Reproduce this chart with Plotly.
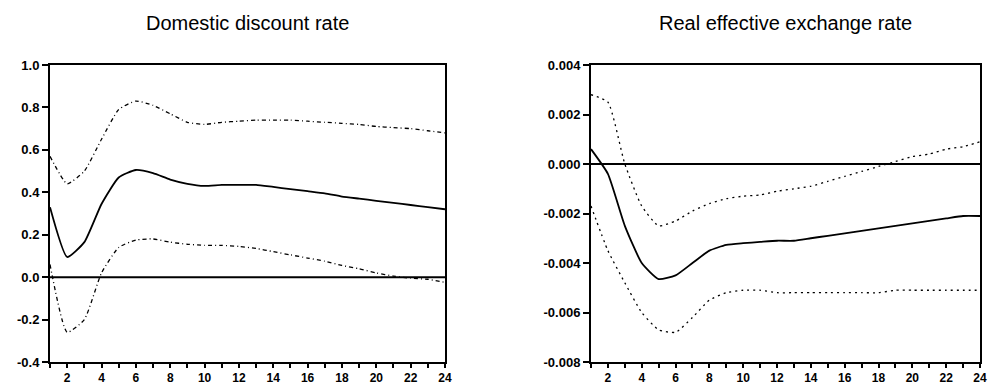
import plotly.graph_objects as go

periods = list(range(1, 25))

# Domestic discount rate
dr_resp = [0.33, 0.095, 0.165, 0.345, 0.47, 0.505, 0.49, 0.46, 0.44, 0.43, 0.435, 0.435,
           0.435, 0.425, 0.415, 0.405, 0.395, 0.38, 0.37, 0.36, 0.35, 0.34, 0.33, 0.32]
dr_upper = [0.57, 0.44, 0.50, 0.65, 0.79, 0.83, 0.81, 0.77, 0.73, 0.72, 0.73, 0.735,
            0.74, 0.74, 0.74, 0.735, 0.73, 0.725, 0.72, 0.71, 0.705, 0.70, 0.69, 0.68]
dr_lower = [0.06, -0.26, -0.20, 0.02, 0.14, 0.175, 0.18, 0.165, 0.155, 0.15, 0.15, 0.145,
            0.135, 0.12, 0.105, 0.09, 0.075, 0.055, 0.04, 0.02, 0.005, -0.005, -0.01, -0.025]

# Real effective exchange rate
er_resp = [0.0006, -0.0004, -0.0025, -0.0040, -0.00465, -0.0045, -0.0040, -0.0035, -0.00327,
           -0.0032, -0.00315, -0.0031, -0.0031, -0.0030, -0.0029, -0.0028, -0.0027, -0.0026,
           -0.0025, -0.0024, -0.0023, -0.0022, -0.0021, -0.0021]
er_upper = [0.0028, 0.0025, 0.0000, -0.0017, -0.0025, -0.0023, -0.0019, -0.0016, -0.0014,
            -0.0013, -0.00125, -0.0011, -0.0010, -0.0009, -0.0007, -0.0005, -0.0003, -0.0001,
            0.0001, 0.0003, 0.0004, 0.0006, 0.0007, 0.0009]
er_lower = [-0.0017, -0.0035, -0.0048, -0.0060, -0.0067, -0.0068, -0.0062, -0.0055, -0.0052,
            -0.0051, -0.0051, -0.0052, -0.0052, -0.0052, -0.0052, -0.0052, -0.0052, -0.0052,
            -0.0051, -0.0051, -0.0051, -0.0051, -0.0051, -0.0051]

titles = ["Domestic discount rate", "Real effective exchange rate"]
x_tickvals = periods
x_ticktext = [str(p) if p % 2 == 0 else "" for p in periods]

W, H = 989, 387
ML, MR, MT, MB = 50, 9, 65, 25
PW = W - ML - MR
fig = go.Figure()

def add_panel(xa, ya, resp, upper, lower, band_dash):
    fig.add_trace(go.Scatter(x=periods, y=[0] * len(periods), xaxis=xa, yaxis=ya, mode="lines",
                             line=dict(color="black", width=2), showlegend=False, hoverinfo="skip"))
    for band in (upper, lower):
        fig.add_trace(go.Scatter(x=periods, y=band, xaxis=xa, yaxis=ya, mode="lines",
                                 line=dict(color="black", width=1.3, dash=band_dash,
                                           shape="spline", smoothing=0.5), showlegend=False))
    fig.add_trace(go.Scatter(x=periods, y=resp, xaxis=xa, yaxis=ya, mode="lines",
                             line=dict(color="black", width=1.8, shape="spline", smoothing=0.5),
                             showlegend=False))

add_panel("x", "y", dr_resp, dr_upper, dr_lower, "4px,3px,1px,3px")
add_panel("x2", "y2", er_resp, er_upper, er_lower, "2px,4px")

axis_common = dict(showline=True, linecolor="black", linewidth=2, mirror=True, showgrid=False,
                   zeroline=False, ticks="outside", tickcolor="black", tickwidth=1.5,
                   automargin=False)
yfont = dict(family="Liberation Sans", size=13, color="black", weight="bold")
xfont = dict(family="Liberation Sans", size=12, color="black", weight="bold")

title_font = dict(family="Liberation Sans", size=20, color="black")

fig.update_layout(
    width=W, height=H, margin=dict(l=ML, r=MR, t=MT, b=MB),
    plot_bgcolor="white", paper_bgcolor="white",
    xaxis=dict(domain=[0, (445 - ML) / PW], range=[1, 24], tickvals=x_tickvals,
               ticktext=x_ticktext, anchor="y", ticklen=4, tickfont=xfont, **axis_common),
    yaxis=dict(domain=[0, 1], range=[-0.4, 1.0], tickvals=[-0.4, -0.2, 0.0, 0.2, 0.4, 0.6, 0.8, 1.0],
               ticktext=["-0.4", "-0.2", "0.0", "0.2", "0.4", "0.6", "0.8", "1.0"],
               anchor="x", ticklen=6, tickfont=yfont, **axis_common),
    xaxis2=dict(domain=[(591 - ML) / PW, 1], range=[1, 24], tickvals=x_tickvals,
                ticktext=x_ticktext, anchor="y2", ticklen=4, tickfont=xfont, **axis_common),
    yaxis2=dict(domain=[0, 1], range=[-0.008, 0.004],
                tickvals=[-0.008, -0.006, -0.004, -0.002, 0.0, 0.002, 0.004],
                ticktext=["-0.008", "-0.006", "-0.004", "-0.002", "0.000", "0.002", "0.004"],
                anchor="x2", ticklen=6, tickfont=yfont, **axis_common),
    annotations=[
        dict(text=titles[0], x=(50 + 445) / 2, y=23, xref="paper", yref="paper",
             xanchor="center", yanchor="middle", showarrow=False, font=title_font),
        dict(text=titles[1], x=(591 + W - MR) / 2, y=23, xref="paper", yref="paper",
             xanchor="center", yanchor="middle", showarrow=False, font=title_font),
    ],
)

# convert title pixel positions to paper fractions of the plot area
for ann in fig.layout.annotations:
    ann.x = (ann.x - ML) / PW
    ann.y = (H - MB - ann.y) / (H - MT - MB)

fig.write_html("out.html")
